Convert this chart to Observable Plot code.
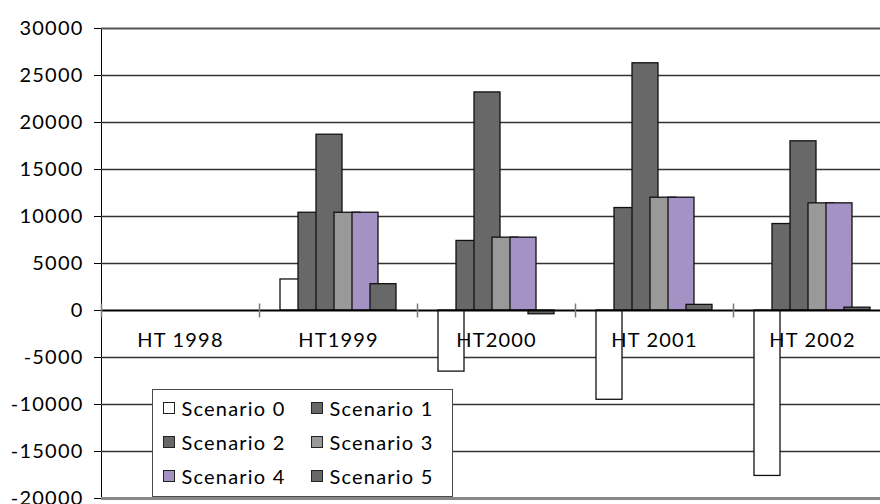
<!DOCTYPE html>
<html>
<head>
<meta charset="utf-8">
<script src="https://cdn.jsdelivr.net/npm/d3@7"></script>
<script src="https://cdn.jsdelivr.net/npm/@observablehq/plot@0.6"></script>
<style>
  body { margin: 0; background: #fff; }
  #wrap { position: relative; width: 880px; height: 504px; overflow: hidden; font-family: Lato, "Open Sans", sans-serif; }
  #wrap svg text { letter-spacing: 1.2px; }
  #legend {
    position: absolute; left: 152px; top: 389px; width: 289px; height: 105px;
    border: 1.5px solid #4a4a4a; background: #fff;
    display: grid; grid-template-columns: 148px 130px; grid-auto-rows: 34px;
    padding: 1px 0 0 9.5px; box-sizing: content-box;
  }
  .item { display: flex; align-items: center; font-size: 20px; letter-spacing: 1.2px; color: #000; white-space: nowrap; }
  .sw { width: 10px; height: 10px; border: 1px solid #222; margin-right: 7px; flex: none; }
</style>
</head>
<body>
<div id="wrap"></div>
<script>
const categories = ["HT 1998", "HT1999", "HT2000", "HT 2001", "HT 2002"];
const scenarios = ["Scenario 0", "Scenario 1", "Scenario 2", "Scenario 3", "Scenario 4", "Scenario 5"];
const scenario0 = [0, 3300, -6500, -9500, -17600];
const scenario1 = [0, 10400, 7400, 10900, 9200];
const scenario2 = [0, 18700, 23200, 26300, 18000];
const scenario3 = [0, 10400, 7750, 12000, 11400];
const scenario4 = [0, 10400, 7750, 12000, 11400];
const scenario5 = [0, 2800, -400, 600, 300];
const colors = ["#ffffff", "#686868", "#686868", "#999999", "#a492c4", "#686868"];
const yTicks = [-20000, -15000, -10000, -5000, 0, 5000, 10000, 15000, 20000, 25000, 30000];

const series = [scenario0, scenario1, scenario2, scenario3, scenario4, scenario5];
const rows = categories.flatMap((cat, i) =>
  scenarios.map((scenario, k) => ({cat, scenario, value: series[k][i]}))
);

const tickSymbol = {draw(ctx) { ctx.moveTo(0, -7); ctx.lineTo(0, 7); }};

const chart = Plot.plot({
  width: 880,
  height: 504,
  marginLeft: 100,
  marginRight: 0,
  marginTop: 28,
  marginBottom: 6,
  style: {fontFamily: "Lato, 'Open Sans', sans-serif", fontSize: "20px", background: "white", color: "#000", overflow: "visible"},
  facet: {data: rows, x: "cat", marginLeft: 0, marginRight: 0},
  fx: {domain: categories, range: [100, 892], padding: 0, axis: null},
  x: {domain: scenarios, paddingInner: -0.448, paddingOuter: 1.077, axis: null},
  y: {domain: [-20000, 30000], ticks: yTicks, tickFormat: d => String(d), tickSize: 7, tickPadding: 11, label: null, line: true},
  color: {domain: scenarios, range: colors},
  marks: [
    Plot.ruleY(yTicks.filter(v => v > -20000 && v < 30000 && v !== 0), {stroke: "#333", strokeWidth: 1.3}),
    Plot.ruleY([30000], {stroke: "#555", strokeWidth: 2}),
    Plot.ruleY([-20000], {stroke: "#888", strokeWidth: 3}),
    Plot.rectY(rows, {filter: d => d.value !== 0, x: "scenario", y: "value", fill: "scenario", stroke: "#111", strokeWidth: 1.3}),
    Plot.ruleY([0], {stroke: "#000", strokeWidth: 2}),
    Plot.dot([0], {y: d => d, frameAnchor: "left", symbol: tickSymbol, stroke: "#7a7a7a", strokeWidth: 1.5, fill: "none"}),
    Plot.text(rows, Plot.selectFirst({text: "cat", y: d => 0, dy: 30, fill: "#000", fontSize: 20}))
  ]
});

const wrap = document.getElementById("wrap");
wrap.appendChild(chart);

const legend = document.createElement("div");
legend.id = "legend";
scenarios.forEach((s, k) => {
  const item = document.createElement("div");
  item.className = "item";
  const sw = document.createElement("span");
  sw.className = "sw";
  sw.style.background = colors[k];
  item.appendChild(sw);
  item.appendChild(document.createTextNode(s));
  legend.appendChild(item);
});
wrap.appendChild(legend);
</script>
</body>
</html>
